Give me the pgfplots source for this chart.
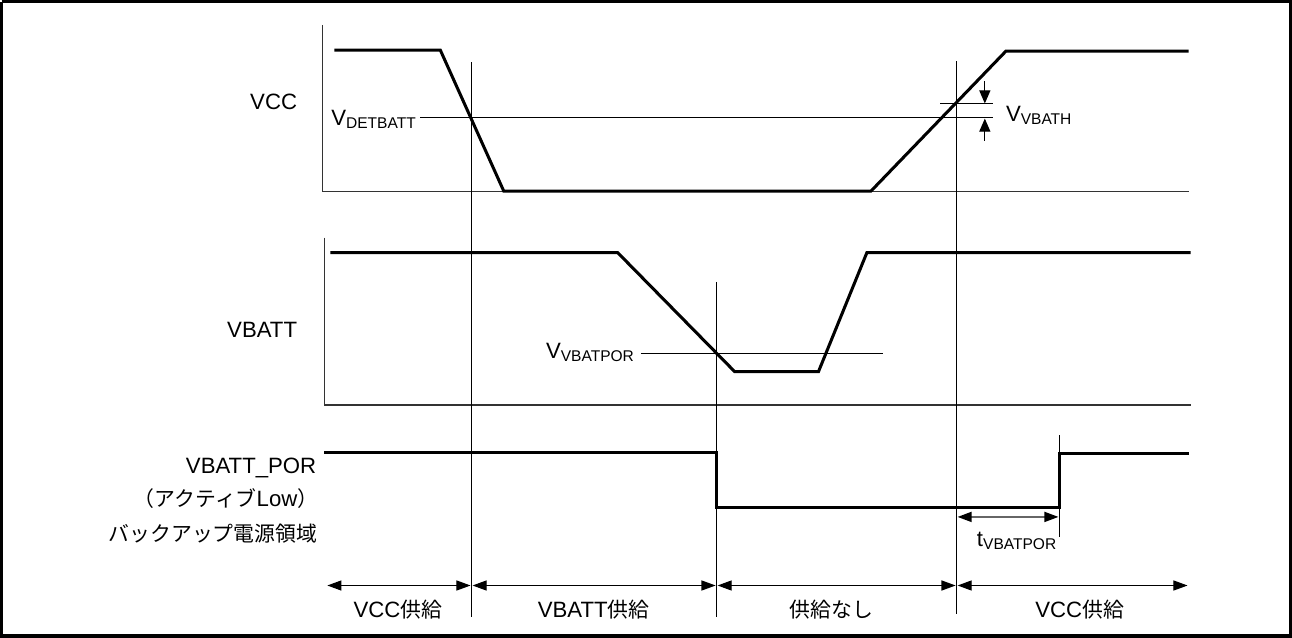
\documentclass[border=0pt]{standalone}
\usepackage{pgfplots}
\pgfplotsset{compat=1.18}
\usetikzlibrary{arrows.meta}
\usepackage{fontspec}
\setmainfont{Liberation Sans}
\newfontfamily\cjk[Scale=0.94]{Noto Sans CJK JP}
\newcommand\lbl{\fontsize{11pt}{13pt}\selectfont}

\tikzset{
  sig/.style={black, line width=1.5pt, line join=miter},
  thn/.style={black, line width=0.55pt},
  ax/.style={black!80, line width=0.6pt},
  tri/.style={-{Triangle[length=6.5pt,width=5.5pt]}},
  dtri/.style={{Triangle[length=7pt,width=5pt]}-{Triangle[length=7pt,width=5pt]}},
  lb/.style={font=\lbl, inner sep=0pt, outer sep=0pt},
}

\begin{document}
\begin{tikzpicture}
\begin{axis}[
  width=646pt, height=322pt, scale only axis,
  xmin=0, xmax=1292, ymin=0, ymax=644, y dir=reverse,
  hide axis, clip=false,
  every axis plot/.append style={no marks},
]
% frame
\addplot[black, line width=1.6pt] coordinates {(7,7) (1285,7) (1285,636) (7,636) (7,7)};

% --- VCC panel
\addplot[ax] coordinates {(325,30) (325,195) (1184,195)};
\addplot[thn] coordinates {(422,122) (990,122)};
\addplot[thn] coordinates {(938,108) (990,108)};
\addplot[sig] coordinates {(337,55) (442,55) (505,195) (869,195) (1003,56) (1184,56)};
\addplot[thn, tri] coordinates {(982,86) (982,108)};
\addplot[thn, tri] coordinates {(982,145) (982,123)};
\node[lb, anchor=east] at (axis cs:300,106) {VCC};
\node[lb, anchor=west] at (axis cs:334,124) {V\textsubscript{DETBATT}};
\node[lb, anchor=west] at (axis cs:1003,120) {V\textsubscript{VBATH}};

% --- VBATT panel
\addplot[ax] coordinates {(327,241) (327,407) (1186,407)};
\addplot[thn] coordinates {(641,356) (881,356)};
\addplot[sig] coordinates {(333,256) (618,256) (734,374) (817,374) (865,256) (1186,256)};
\node[lb, anchor=east] at (axis cs:300,333) {VBATT};
\node[lb, anchor=east] at (axis cs:635,355) {V\textsubscript{VBATPOR}};

% --- VBATT_POR panel
\addplot[sig] coordinates {(327,454) (716,454) (716,509) (1056,509) (1056,455) (1184,455)};
\addplot[thn] coordinates {(1056,437) (1056,538)};
\addplot[black!60, line width=0.8pt, dtri, arrows={[color=black]}] coordinates {(955,518) (1055,518)};
\node[lb, anchor=east] at (axis cs:319,469) {VBATT\_POR};
\node[lb, anchor=east] at (axis cs:321,500) {{\cjk （アクティブ}Low{\cjk ）}};
\node[lb, anchor=east] at (axis cs:320,535) {\cjk バックアップ電源領域};
\node[lb] at (axis cs:1014,542) {t\textsubscript{VBATPOR}};

% --- time markers
\addplot[thn] coordinates {(473,67) (473,617)};
\addplot[thn] coordinates {(716,285) (716,617)};
\addplot[thn] coordinates {(954,66) (954,614)};

% --- regions
\addplot[thn, dtri] coordinates {(330,586) (472,586)};
\addplot[thn, dtri] coordinates {(474,586) (715,586)};
\addplot[thn, dtri] coordinates {(717,586) (953,586)};
\addplot[thn, dtri] coordinates {(955,586) (1183,586)};
\node[lb] at (axis cs:400,610) {VCC{\cjk 供給}};
\node[lb] at (axis cs:594,610) {VBATT{\cjk 供給}};
\node[lb] at (axis cs:830,610) {\cjk 供給なし};
\node[lb] at (axis cs:1076,610) {VCC{\cjk 供給}};
\end{axis}
\end{tikzpicture}
\end{document}
